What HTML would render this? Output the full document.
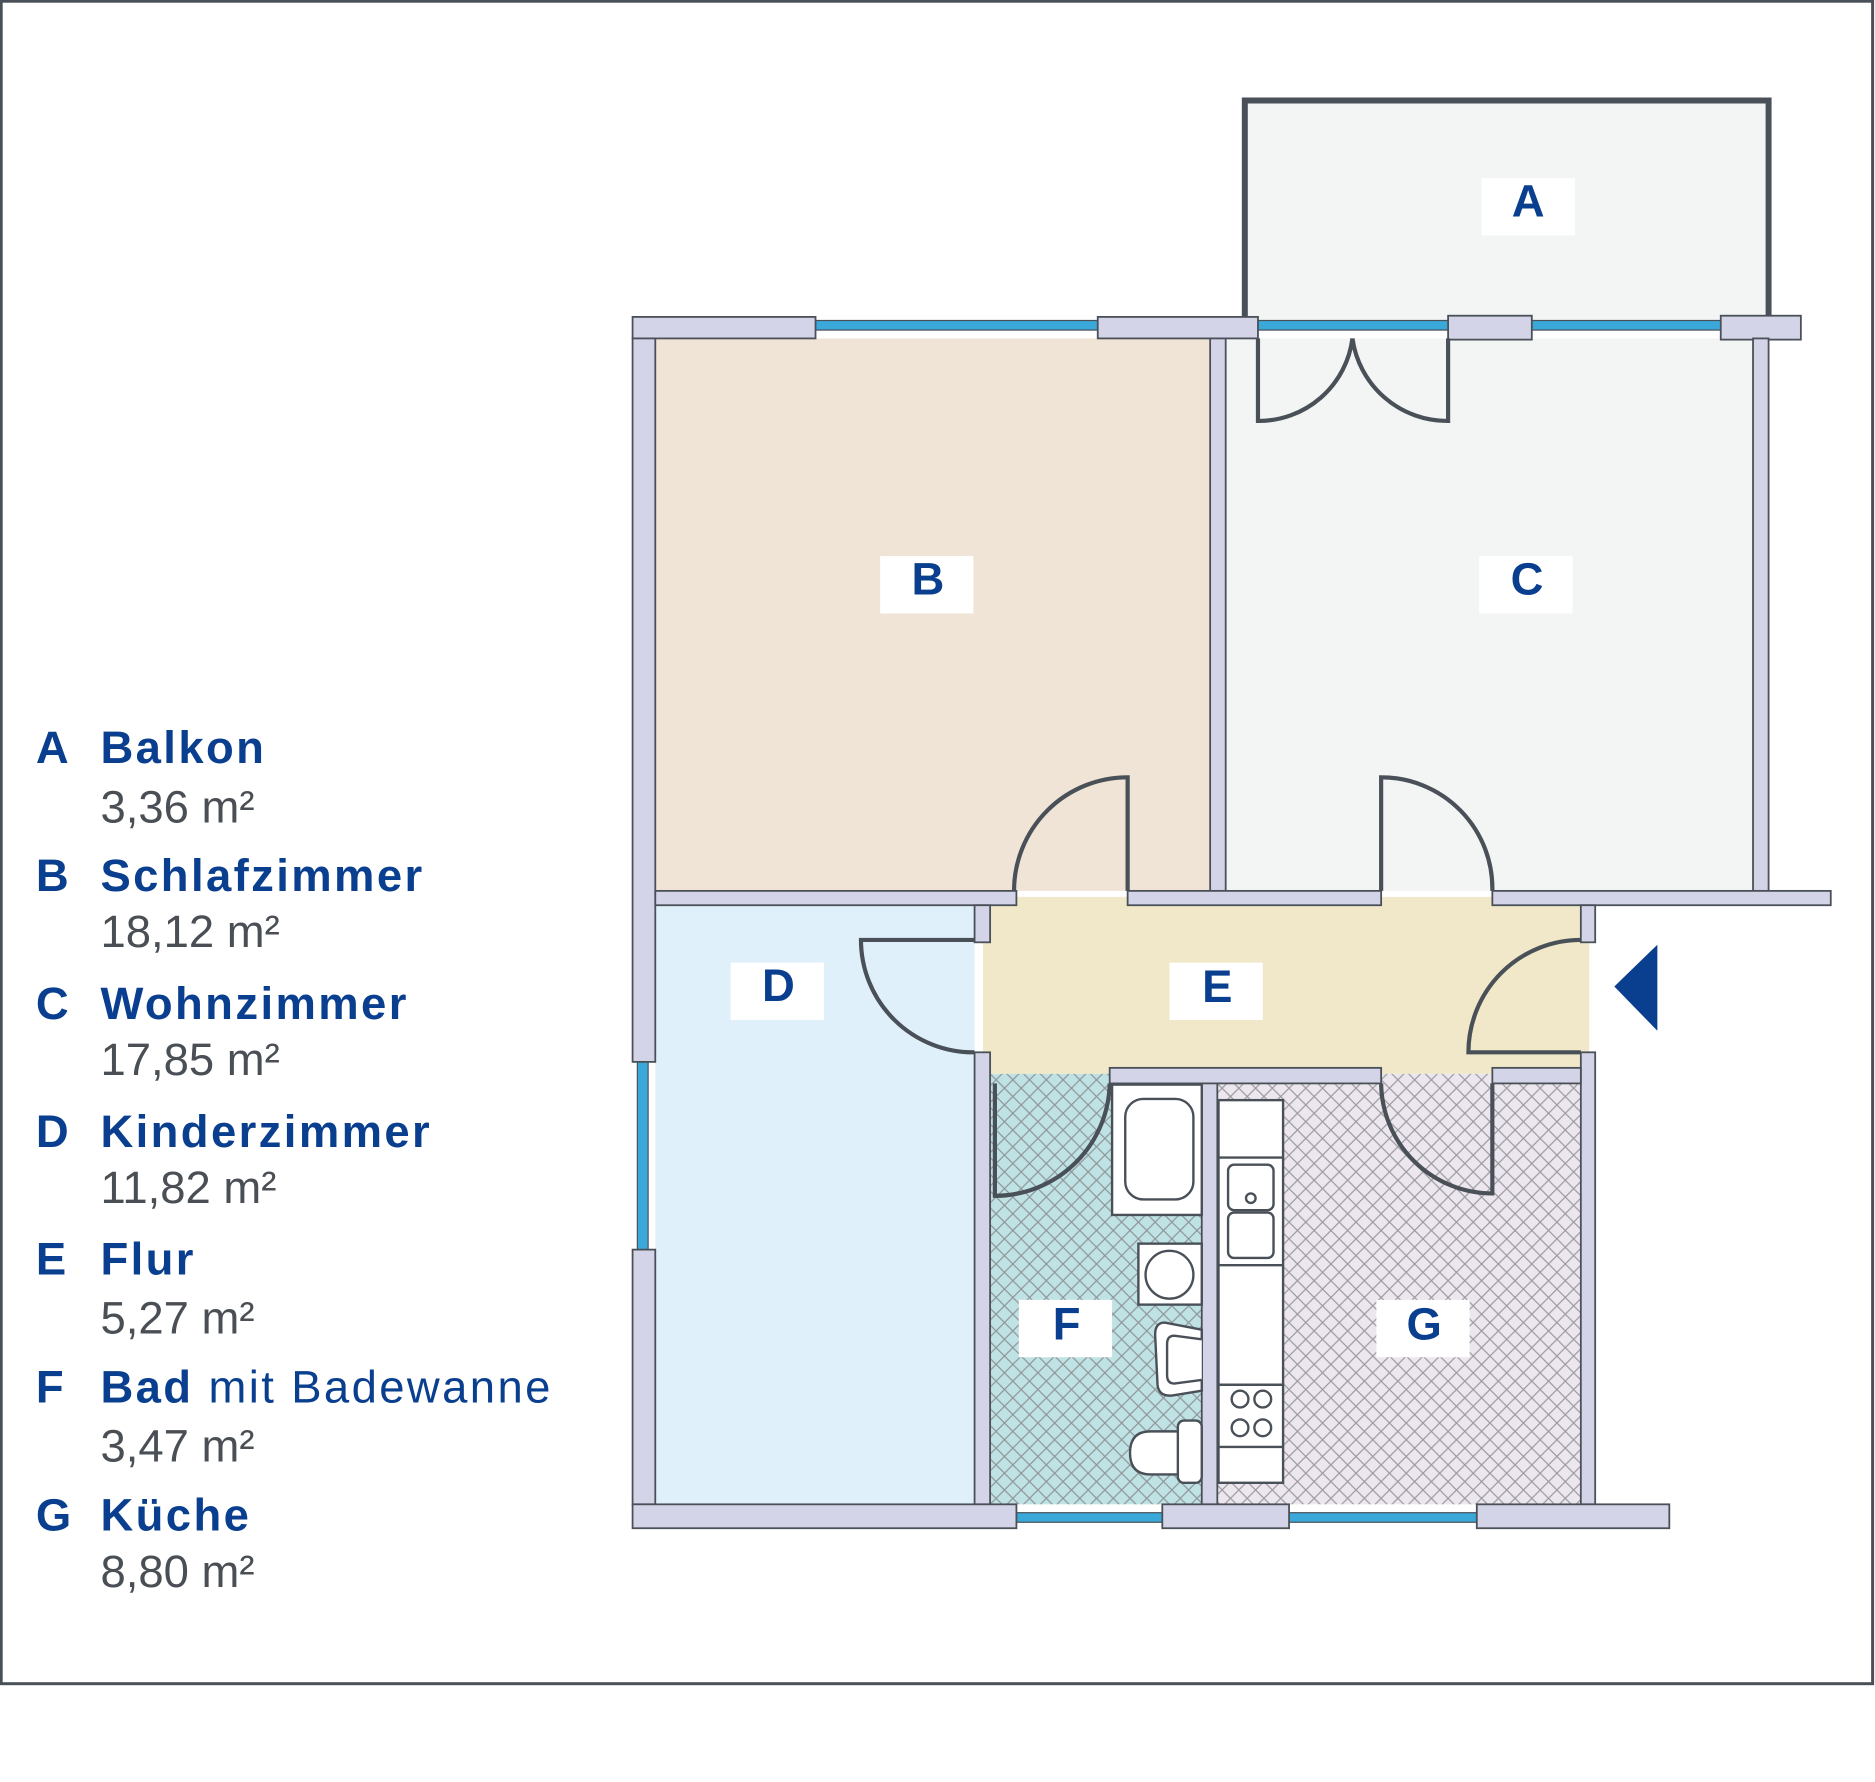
<!DOCTYPE html>
<html><head><meta charset="utf-8"><style>
html,body{margin:0;padding:0;background:#fff;}
svg{display:block;}
text{font-family:"Liberation Sans",sans-serif;}
</style></head><body>
<svg width="1875" height="1782" viewBox="0 0 1568 1490.2" xmlns="http://www.w3.org/2000/svg">
<defs>
<pattern id="h1" width="14" height="14" patternUnits="userSpaceOnUse">
<rect width="14" height="14" fill="#bfe2e4"/>
<path d="M0,0 L14,14 M14,0 L0,14" stroke="#8f9598" stroke-width="1"/>
</pattern>
<pattern id="h2" width="14" height="14" patternUnits="userSpaceOnUse">
<rect width="14" height="14" fill="#ece6ee"/>
<path d="M0,0 L14,14 M14,0 L0,14" stroke="#9a9a9f" stroke-width="1"/>
</pattern>
</defs>
<rect x="1" y="1" width="1565" height="1407" fill="#fff" stroke="#4a5058" stroke-width="2.5"/>

<rect x="1041" y="84" width="438" height="185" fill="#f3f5f4"/>
<polyline points="1041,268 1041,84 1479,84 1479,268" fill="none" stroke="#4a5058" stroke-width="5"/>
<rect x="548" y="283" width="464" height="462" fill="#f0e4d6"/>
<rect x="1025" y="283" width="441" height="462" fill="#f3f5f4"/>
<rect x="548" y="757" width="267" height="501" fill="#e0f0fa"/>
<rect x="822" y="750" width="507" height="148" fill="#f0e8c8"/>
<rect x="828" y="898" width="177" height="360" fill="url(#h1)"/>
<rect x="1018" y="898" width="304" height="360" fill="url(#h2)"/>

<g fill="#3aa8d8" stroke="#4a5058" stroke-width="1">
<rect x="682" y="268" width="236" height="8"/>
<rect x="1052" y="268" width="159" height="8"/>
<rect x="1281" y="268" width="158" height="8"/>
<rect x="533" y="888" width="9" height="157"/>
<rect x="850" y="1265" width="122" height="8"/>
<rect x="1078" y="1265" width="157" height="8"/>
</g>

<g fill="#d4d4e8" stroke="#4a5058" stroke-width="1.5">
<rect x="529" y="265" width="153" height="18"/>
<rect x="918" y="265" width="134" height="18"/>
<rect x="1211" y="264" width="70" height="20"/>
<rect x="1439" y="264" width="67" height="20"/>
<rect x="529" y="283" width="19" height="605"/>
<rect x="529" y="1045" width="19" height="213"/>
<rect x="1012" y="283" width="13" height="462"/>
<rect x="1466" y="283" width="13" height="462"/>
<rect x="548" y="745" width="302" height="12"/>
<rect x="943" y="745" width="212" height="12"/>
<rect x="1248" y="745" width="283" height="12"/>
<rect x="815" y="757" width="13" height="31"/>
<rect x="815" y="880" width="13" height="378"/>
<rect x="1322" y="757" width="12" height="31"/>
<rect x="1322" y="880" width="12" height="378"/>
<rect x="928" y="893" width="227" height="13"/>
<rect x="1248" y="893" width="74" height="13"/>
<rect x="1005" y="906" width="13" height="352"/>
<rect x="529" y="1258" width="321" height="20"/>
<rect x="972" y="1258" width="106" height="20"/>
<rect x="1235" y="1258" width="161" height="20"/>
</g>

<g fill="none" stroke="#4a5058" stroke-width="3.5">
<path d="M943,745 L943,650 A95,95 0 0 0 848,745"/>
<path d="M1155,745 L1155,650 A93,93 0 0 1 1248,745"/>
<path d="M815,786 L720,786 A94,94 0 0 0 815,880"/>
<path d="M1322,880 L1228,880 A94,94 0 0 1 1322,786"/>
<path d="M832,906 L832,1000 A96,96 0 0 0 928,906"/>
<path d="M1248,906 L1248,998 A93,93 0 0 1 1155,906"/>
<path d="M1052,283 L1052,352 A79,79 0 0 0 1131,283"/>
<path d="M1211,283 L1211,352 A80,80 0 0 1 1131,283"/>
</g>

<g fill="#fff" stroke="#4a5058" stroke-width="2">
<rect x="930" y="907" width="75" height="109"/>
<rect x="941" y="919" width="57" height="84" rx="15"/>
<rect x="952" y="1040" width="53" height="51"/>
<circle cx="978" cy="1066" r="20"/>
<path d="M1005,1112 L974,1106 Q966,1106 966,1116 L968,1158 Q969,1168 980,1167 L1005,1163 Z"/>
<path d="M1005,1120 L982,1117 Q976,1117 976,1124 L976,1150 Q976,1157 982,1157 L1005,1154"/>
<path d="M990,1197 L962,1197 Q945,1197 945,1215 Q945,1233 962,1233 L990,1233 Z"/>
<rect x="985" y="1188" width="20" height="52" rx="5"/>
<rect x="1019" y="920" width="54" height="320"/>
<line x1="1019" y1="968" x2="1073" y2="968"/>
<line x1="1019" y1="1058" x2="1073" y2="1058"/>
<line x1="1019" y1="1158" x2="1073" y2="1158"/>
<line x1="1019" y1="1210" x2="1073" y2="1210"/>
<rect x="1027" y="974" width="38" height="38" rx="5"/>
<rect x="1027" y="1014" width="38" height="38" rx="5"/>
<circle cx="1046" cy="1002" r="4"/>
<circle cx="1037" cy="1170" r="7"/><circle cx="1056" cy="1170" r="7"/>
<circle cx="1037" cy="1194" r="7"/><circle cx="1056" cy="1194" r="7"/>
</g>

<polygon points="1350,825 1386,790 1386,862" fill="#0a3f8f"/>

<g fill="#fff">
<rect x="1239" y="149" width="78" height="48"/>
<rect x="736" y="465" width="78" height="48"/>
<rect x="1237" y="465" width="78" height="48"/>
<rect x="611" y="805" width="78" height="48"/>
<rect x="978" y="805" width="78" height="48"/>
<rect x="852" y="1087" width="78" height="48"/>
<rect x="1151" y="1087" width="78" height="48"/>
</g>
<g fill="#0a3f8f" font-weight="bold" font-size="38" text-anchor="middle">
<text x="1278" y="181">A</text>
<text x="776" y="497">B</text>
<text x="1277" y="497">C</text>
<text x="651" y="837">D</text>
<text x="1018" y="838">E</text>
<text x="892" y="1120">F</text>
<text x="1191" y="1120">G</text>
</g>

<g font-size="38">
<g fill="#0a3f8f" font-weight="bold">
<text x="30" y="638">A</text><text x="84" y="638" letter-spacing="2">Balkon</text>
<text x="30" y="745">B</text><text x="84" y="745" letter-spacing="2">Schlafzimmer</text>
<text x="30" y="852">C</text><text x="84" y="852" letter-spacing="2">Wohnzimmer</text>
<text x="30" y="959">D</text><text x="84" y="959" letter-spacing="2">Kinderzimmer</text>
<text x="30" y="1066">E</text><text x="84" y="1066" letter-spacing="2">Flur</text>
<text x="30" y="1173">F</text><text x="84" y="1173" letter-spacing="2">Bad <tspan font-weight="normal">mit Badewanne</tspan></text>
<text x="30" y="1280">G</text><text x="84" y="1280" letter-spacing="2">Küche</text>
</g>
<g fill="#4a4f55">
<text x="84" y="688">3,36 m²</text>
<text x="84" y="792">18,12 m²</text>
<text x="84" y="899">17,85 m²</text>
<text x="84" y="1006">11,82 m²</text>
<text x="84" y="1115">5,27 m²</text>
<text x="84" y="1222">3,47 m²</text>
<text x="84" y="1327">8,80 m²</text>
</g>
</g>
</svg>
</body></html>
